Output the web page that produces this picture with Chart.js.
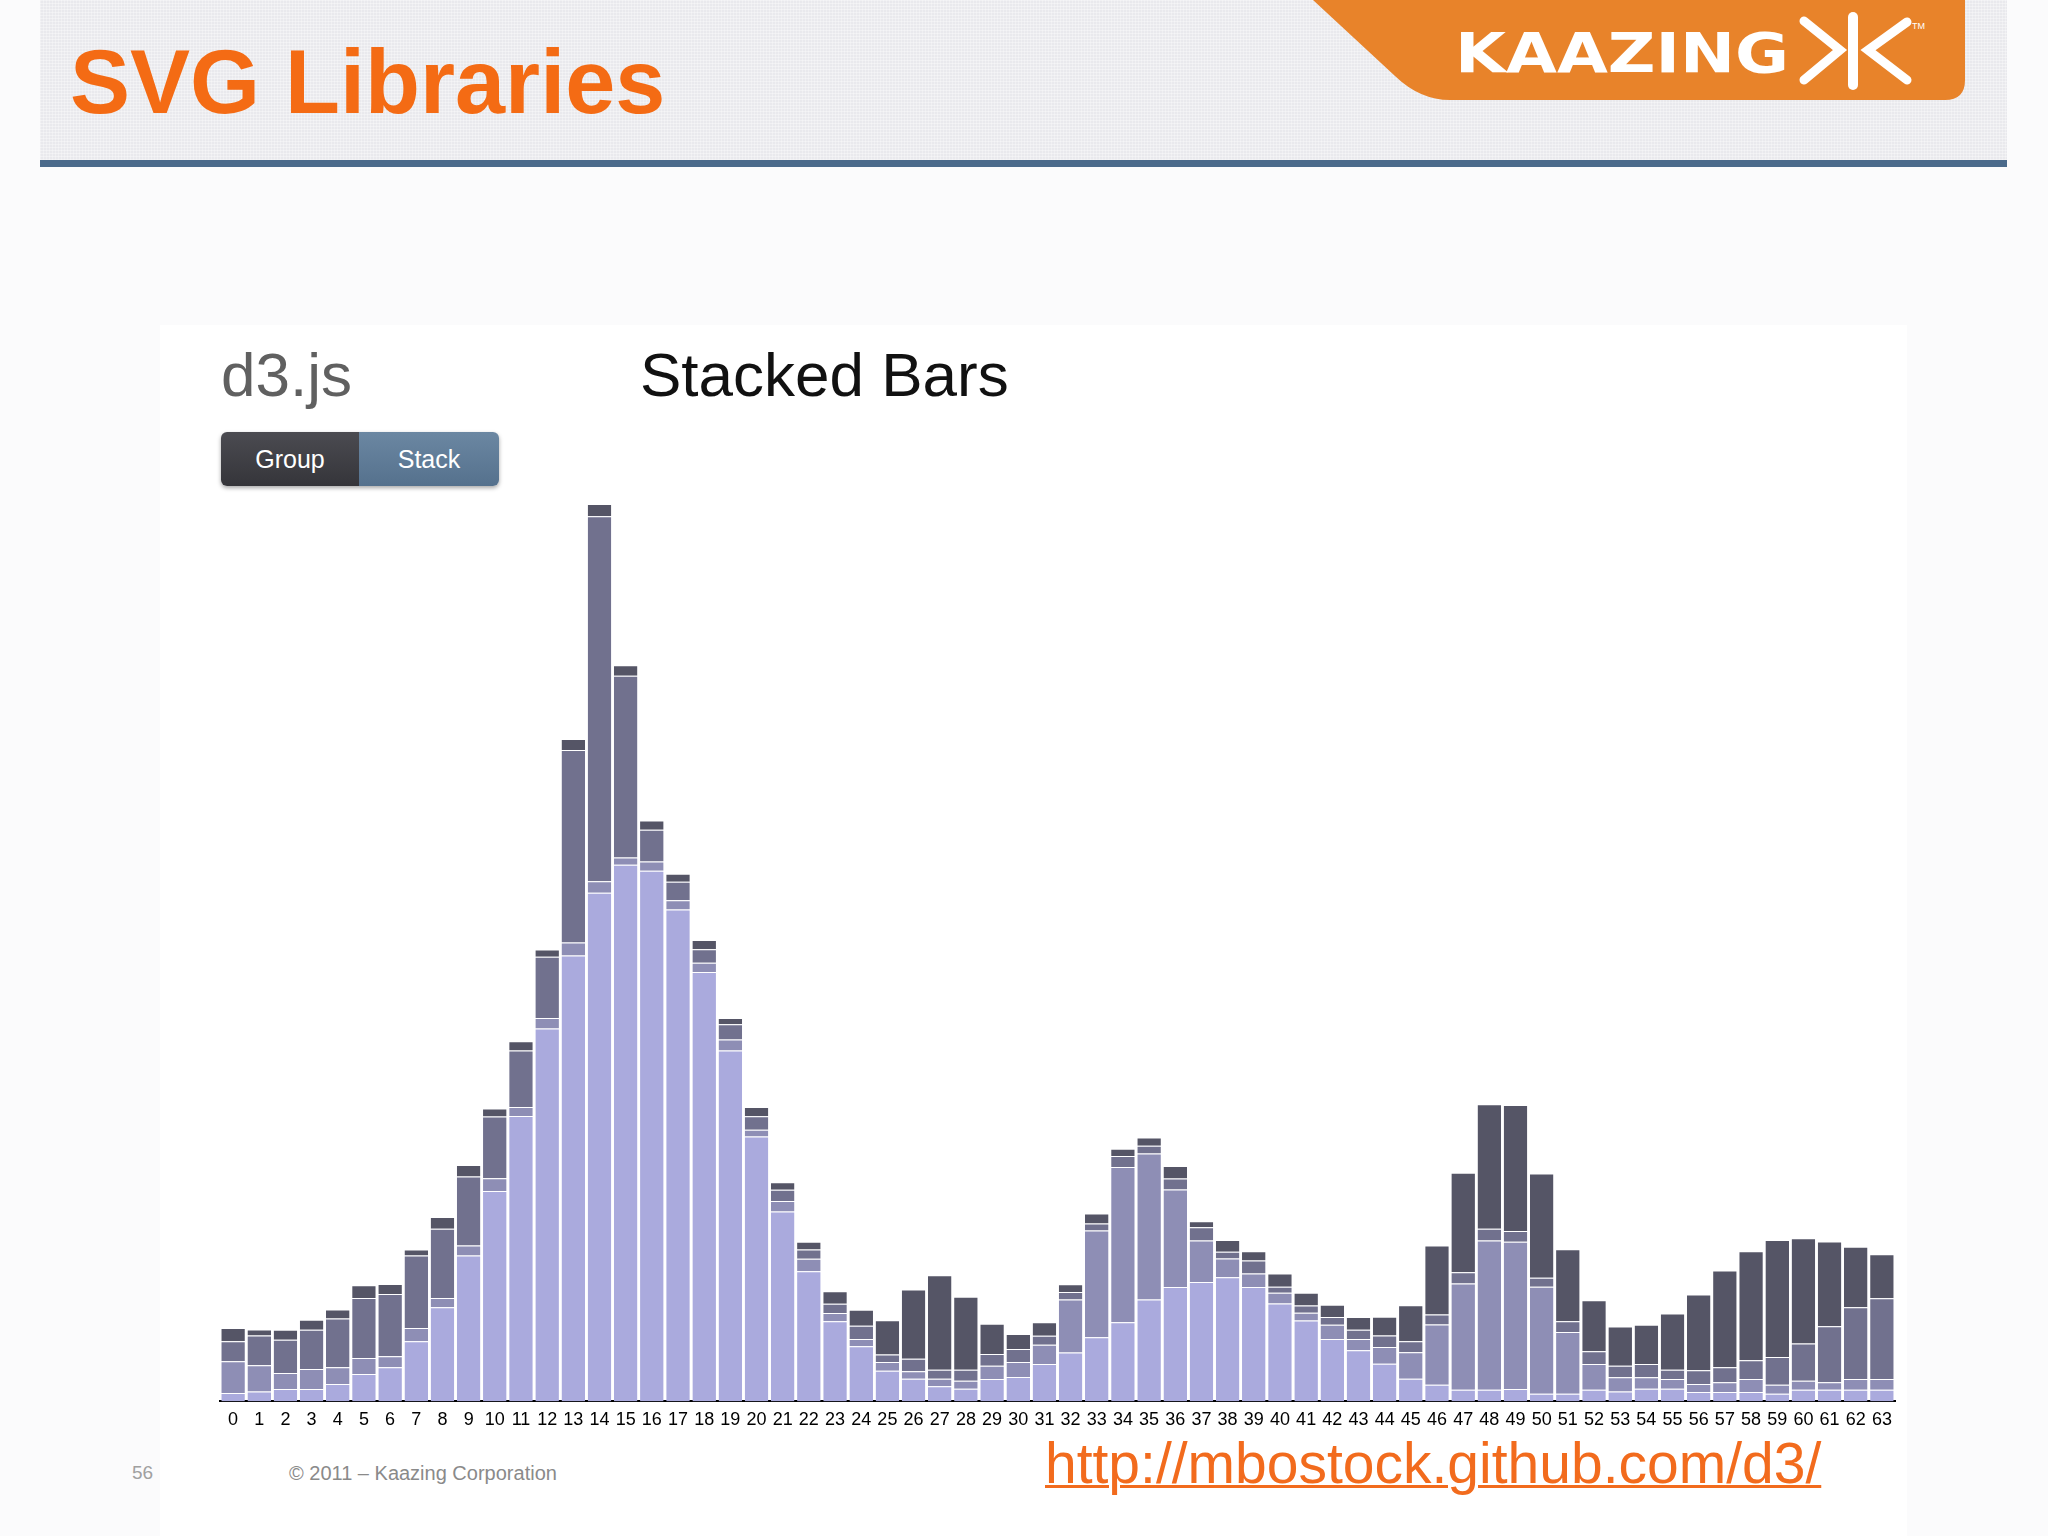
<!DOCTYPE html>
<html>
<head>
<meta charset="utf-8">
<title>SVG Libraries - d3.js Stacked Bars</title>
<script src="https://cdn.jsdelivr.net/npm/chart.js@4.4.1/dist/chart.umd.min.js"></script>
<style>
    body {
        margin: 0;
        width: 2048px;
        height: 1536px;
        background: #fbfbfc;
        font-family: "Liberation Sans", Arial, sans-serif;
        position: relative;
        overflow: hidden;
    }
    .header {
        position: absolute;
        left: 40px;
        top: 0;
        width: 1967px;
        height: 160px;
        background-color: #e9e9ed;
        background-image: repeating-linear-gradient(0deg, rgba(255,255,255,0.35) 0 1px, transparent 1px 3px),
                          repeating-linear-gradient(90deg, rgba(255,255,255,0.3) 0 1px, transparent 1px 3px);
    }
    .header-line {
        position: absolute;
        left: 40px;
        top: 160px;
        width: 1967px;
        height: 7px;
        background: #4b6a8b;
    }
    .slide-title {
        position: absolute;
        left: 70px;
        top: 37px;
        font-size: 90px;
        line-height: 1;
        font-weight: bold;
        color: #f46b14;
        white-space: nowrap;
    }
    .logo {
        position: absolute;
        left: 1300px;
        top: 0;
    }
    .panel {
        position: absolute;
        left: 160px;
        top: 325px;
        width: 1747px;
        height: 1211px;
        background: #ffffff;
    }
    .lib-name {
        position: absolute;
        left: 221px;
        top: 344px;
        font-size: 62px;
        line-height: 1;
        color: #606060;
        white-space: nowrap;
    }
    .chart-title {
        position: absolute;
        left: 640px;
        top: 344px;
        font-size: 62px;
        line-height: 1;
        color: #111;
        white-space: nowrap;
    }
    .btn-group {
        position: absolute;
        left: 221px;
        top: 432px;
        width: 278px;
        height: 54px;
        border-radius: 6px;
        overflow: hidden;
        box-shadow: 0 2px 4px rgba(0,0,0,0.35);
        display: flex;
    }
    .btn-group div {
        height: 54px;
        line-height: 54px;
        text-align: center;
        color: #fff;
        font-size: 25px;
    }
    .btn-group .group-btn {
        width: 138px;
        background: linear-gradient(#4b4b51, #35353a);
    }
    .btn-group .stack-btn {
        width: 140px;
        background: linear-gradient(#6b87a2, #55718d);
    }
    .chart-box {
        position: absolute;
        left: 200px;
        top: 490px;
        width: 1715px;
        height: 955px;
    }
    .page-num {
        position: absolute;
        left: 132px;
        top: 1463px;
        font-size: 19px;
        line-height: 1;
        color: #a0a0a0;
    }
    .copyright {
        position: absolute;
        left: 289px;
        top: 1463px;
        font-size: 20px;
        line-height: 1;
        color: #8a8a8a;
        white-space: nowrap;
    }
    .url {
        position: absolute;
        left: 1045px;
        top: 1435px;
        font-size: 57px;
        line-height: 1;
        color: #f26b1d;
        text-decoration: underline;
        text-decoration-thickness: 3px;
        white-space: nowrap;
    }
</style>
</head>
<body>

<div class="header"></div>
<div class="header-line"></div>
<div class="slide-title">SVG Libraries</div>

<svg class="logo" width="700" height="110" viewBox="0 0 700 110">
    <path d="M13 0 L95 76 Q120 100 150 100 L645 100 Q665 100 665 80 L665 0 Z" fill="#e8832a"/>
    <text x="155" y="72" font-family="DejaVu Sans, sans-serif" font-weight="bold" font-size="55"
          textLength="334" lengthAdjust="spacingAndGlyphs" fill="#ffffff">KAAZING</text>
    <polyline points="504,21 540,50 504,80" fill="none" stroke="#ffffff" stroke-width="9" stroke-linecap="round" stroke-linejoin="miter"/>
    <line x1="553" y1="17" x2="553" y2="85" stroke="#ffffff" stroke-width="10" stroke-linecap="round"/>
    <polyline points="607,22 568,50 607,80" fill="none" stroke="#ffffff" stroke-width="9" stroke-linecap="round" stroke-linejoin="miter"/>
    <text x="612" y="29" font-family="Liberation Sans, sans-serif" font-size="9" fill="#ffffff">TM</text>
</svg>

<div class="panel"></div>
<div class="lib-name">d3.js</div>
<div class="chart-title">Stacked Bars</div>
<div class="btn-group">
    <div class="group-btn">Group</div>
    <div class="stack-btn">Stack</div>
</div>

<div class="chart-box">
    <canvas id="stackedChart" width="1715" height="955"></canvas>
</div>

<div class="page-num">56</div>
<div class="copyright">© 2011 – Kaazing Corporation</div>
<div class="url">http://mbostock.github.com/d3/</div>

<script>
// bar categories (x axis tick labels)
const categories = ["0", "1", "2", "3", "4", "5", "6", "7", "8", "9",
    "10", "11", "12", "13", "14", "15", "16", "17", "18", "19",
    "20", "21", "22", "23", "24", "25", "26", "27", "28", "29",
    "30", "31", "32", "33", "34", "35", "36", "37", "38", "39",
    "40", "41", "42", "43", "44", "45", "46", "47", "48", "49",
    "50", "51", "52", "53", "54", "55", "56", "57", "58", "59",
    "60", "61", "62", "63"];

// stack layers, bottom (lightest) to top (darkest)
const layer0 = [8.3, 10, 12.3, 12.3, 17.3, 27.3, 34, 60, 94, 145.7,
    210, 284.8, 372.3, 445.2, 507.7, 535.8, 529.7, 491.1, 428.7, 350.3,
    264.5, 189.5, 130, 80, 55, 30.7, 22.7, 15, 12.7, 22.3,
    24.3, 37.3, 48.7, 64, 79, 101.7, 114.3, 119.3, 124, 114.3,
    97.7, 80.7, 62.3, 51, 37.7, 22.7, 16.7, 11.7, 11.7, 12.3,
    7.7, 7.7, 11.7, 10, 12.7, 12.7, 9.3, 9.3, 9.3, 7.7,
    11.7, 11.7, 11.7, 11.7];

const layer1 = [31.7, 26, 16, 20, 16.7, 16, 11, 13.3, 9.3, 10,
    12.7, 9.2, 10.4, 12.9, 11.6, 7.3, 9.2, 9.2, 9.2, 11,
    6.7, 10.5, 12.3, 8.3, 7.3, 8.7, 7.3, 7.7, 8, 13.3,
    15, 19.3, 53, 106.7, 155, 145.7, 97.3, 41.3, 18.7, 13.3,
    10.7, 7.7, 14.3, 11.3, 16.7, 26.3, 60, 106, 149, 147,
    106.7, 61.7, 25.7, 14.2, 11.3, 9.7, 8, 9.7, 13, 9,
    9, 7.3, 10.7, 10.7];

const layer2 = [20, 29.7, 33.3, 39.3, 48.7, 60, 62.3, 72.3, 69, 68.7,
    61.7, 56.3, 61.2, 192.3, 364.4, 181.3, 31.8, 18.4, 13.5, 15.3,
    13.5, 11.3, 9.3, 9.3, 13.3, 7.3, 12.7, 9, 11, 11.7,
    13, 9, 7.5, 7, 11, 7.7, 11, 13.3, 6.7, 13,
    6, 7.3, 7.7, 9.3, 11.3, 11, 10, 11.3, 11.7, 10.7,
    9, 10.7, 12.7, 11.5, 13.3, 9.3, 13.7, 15, 18.7, 27.7,
    37, 56, 71.7, 80.7];

const layer3 = [13.3, 6, 10, 10, 9, 12.7, 10, 6, 11.7, 11.7,
    8, 9.2, 7.3, 11, 12.2, 10.4, 9.2, 8, 9.2, 6.1,
    9.2, 7.5, 7.7, 12.3, 16, 34.3, 69, 94.3, 72.7, 30.3,
    15, 13.3, 7.8, 10, 7.3, 8.3, 12.3, 6, 11.7, 9.3,
    13.3, 12.7, 12.3, 12.7, 18.7, 36, 69, 99.3, 124.3, 126,
    104, 71.7, 51, 39, 39.3, 56, 75.7, 96.7, 109, 116.7,
    105.3, 84.7, 60.3, 43.7];

const layerColors = ["#aaaadd", "#8e8eb5", "#71718e", "#555566"];

// y domain goes from 0 to the tallest stack, like the d3 example
const stackMax = Math.max(...categories.map((c, i) => layer0[i] + layer1[i] + layer2[i] + layer3[i]));

const ctx = document.getElementById("stackedChart").getContext("2d");
new Chart(ctx, {
    type: "bar",
    data: {
        labels: categories,
        datasets: [layer0, layer1, layer2, layer3].map((values, index) => {
            return {
                label: "Layer " + index,
                data: values,
                backgroundColor: layerColors[index],
                borderColor: "rgba(255, 255, 255, 0.25)",
                borderWidth: { top: 1, right: 0, bottom: 0, left: 0 },
                borderSkipped: "bottom",
                barPercentage: 0.9,
                categoryPercentage: 1.0
            };
        })
    },
    options: {
        responsive: false,
        animation: false,
        layout: {
            padding: { left: 20, right: 20, top: 14, bottom: 6 }
        },
        scales: {
            x: {
                stacked: true,
                grid: {
                    display: false,
                    drawTicks: false
                },
                border: {
                    display: true,
                    color: "#000000",
                    width: 2
                },
                ticks: {
                    color: "#000000",
                    padding: 8,
                    autoSkip: false,
                    maxRotation: 0,
                    font: { family: "Liberation Sans", size: 18 }
                }
            },
            y: {
                stacked: true,
                display: false,
                min: 0,
                max: stackMax
            }
        },
        plugins: {
            legend: { display: false },
            tooltip: { enabled: false }
        }
    }
});
</script>
</body>
</html>
